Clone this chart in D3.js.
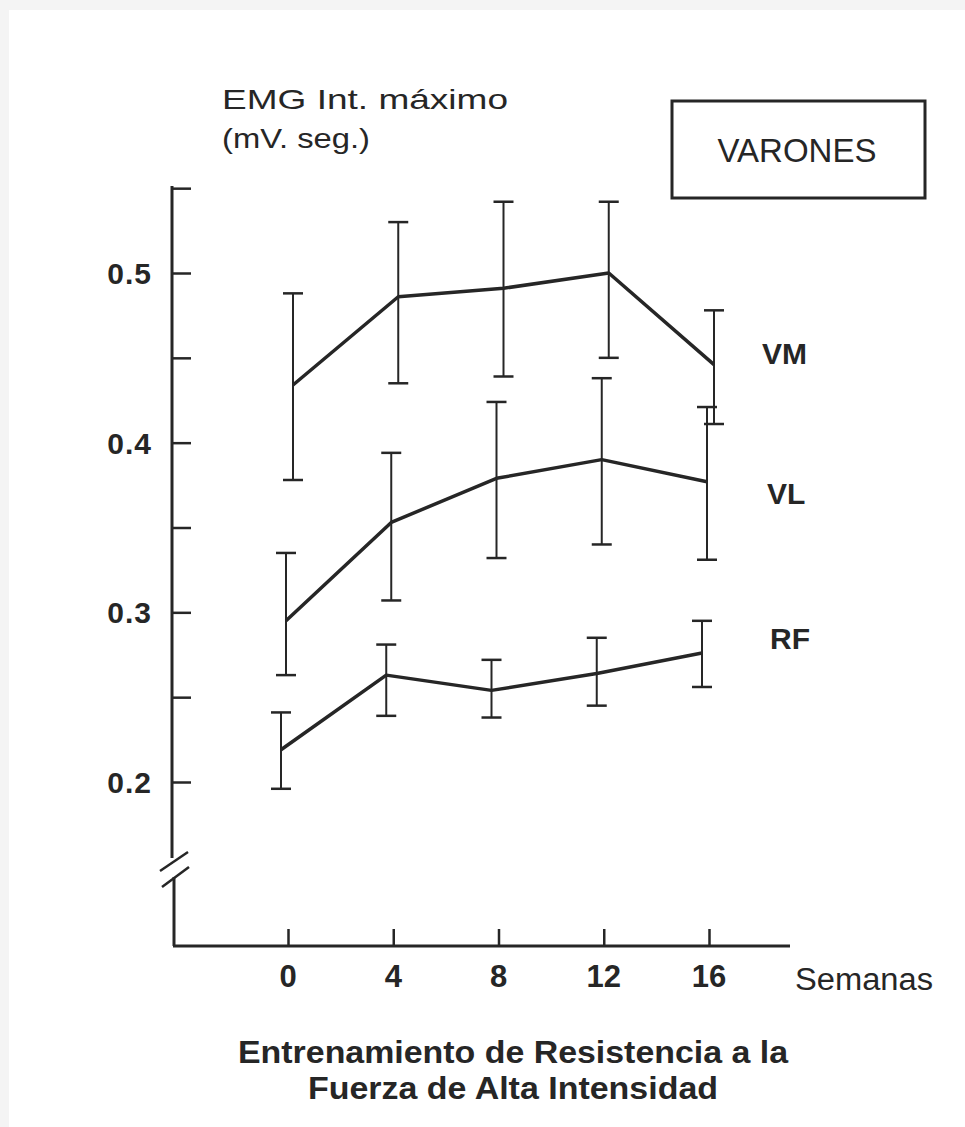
<!DOCTYPE html>
<html>
<head>
<meta charset="utf-8">
<script src="https://cdn.jsdelivr.net/npm/d3@7"></script>
<style>
  body { margin: 0; background: #f4f4f4; }
  text { font-family: "Liberation Sans", Arial, sans-serif; fill: #262626; }
</style>
</head>
<body>
<div class="chart"></div>
<script>
var svgWidth = 965;
var svgHeight = 1127;

// weeks of training
var weeks = [0, 4, 8, 12, 16];
var xTicks = [0, 4, 8, 12, 16];
var yTicks = [0.2, 0.3, 0.4, 0.5];
var yMinorTicks = [0.25, 0.35, 0.45, 0.55];

// integrated EMG (mV. seg.), mean and error bar ends
var vmMean = [0.434, 0.486, 0.491, 0.500, 0.446];
var vmHigh = [0.488, 0.530, 0.542, 0.542, 0.478];
var vmLow  = [0.378, 0.435, 0.439, 0.450, 0.411];

var vlMean = [0.295, 0.353, 0.379, 0.390, 0.377];
var vlHigh = [0.335, 0.394, 0.424, 0.438, 0.421];
var vlLow  = [0.263, 0.307, 0.332, 0.340, 0.331];

var rfMean = [0.219, 0.263, 0.254, 0.264, 0.276];
var rfHigh = [0.241, 0.281, 0.272, 0.285, 0.295];
var rfLow  = [0.196, 0.239, 0.238, 0.245, 0.256];

var seriesNames = ["VM", "VL", "RF"];

var ink = "#262626";

var svg = d3.select(".chart")
  .append("svg")
  .attr("width", svgWidth)
  .attr("height", svgHeight);

// paper
svg.append("rect")
  .attr("x", 9).attr("y", 10)
  .attr("width", svgWidth - 9).attr("height", svgHeight - 10)
  .attr("fill", "#ffffff");

var xScale = d3.scaleLinear().domain([0, 16]).range([288, 709]);
var yScale = d3.scaleLinear().domain([0.2, 0.5]).range([782, 273]);

var axisX = 172;
var baseY = 946;

// y axis upper part with break
svg.append("line")
  .attr("x1", axisX).attr("x2", axisX)
  .attr("y1", 186).attr("y2", 858)
  .attr("stroke", ink).attr("stroke-width", 3);
svg.append("line")
  .attr("x1", axisX + 2).attr("x2", axisX + 2)
  .attr("y1", 877).attr("y2", baseY)
  .attr("stroke", ink).attr("stroke-width", 3);
svg.append("line")
  .attr("x1", 160).attr("y1", 871).attr("x2", 188).attr("y2", 852)
  .attr("stroke", ink).attr("stroke-width", 2.5);
svg.append("line")
  .attr("x1", 162).attr("y1", 887).attr("x2", 189).attr("y2", 867)
  .attr("stroke", ink).attr("stroke-width", 2.5);

// y ticks pointing inward
var leftAxis = d3.axisRight(yScale)
  .tickValues(yTicks.concat(yMinorTicks))
  .tickSize(19)
  .tickFormat("");
var yAxis = svg.append("g")
  .attr("transform", `translate(${axisX},0)`)
  .call(leftAxis);
yAxis.select(".domain").remove();
yAxis.selectAll(".tick line").attr("stroke", ink).attr("stroke-width", 2.5);

svg.selectAll(".ylab")
  .data(yTicks)
  .enter()
  .append("text")
  .attr("class", "ylab")
  .attr("x", 152)
  .attr("y", d => yScale(d) + 11)
  .attr("text-anchor", "end")
  .attr("font-size", 30)
  .attr("font-weight", "bold")
  .attr("letter-spacing", 1)
  .text(d => d.toFixed(1));

// x axis
svg.append("line")
  .attr("x1", axisX + 1).attr("x2", 790)
  .attr("y1", baseY).attr("y2", baseY)
  .attr("stroke", ink).attr("stroke-width", 3);

var bottomAxis = d3.axisTop(xScale)
  .tickValues(xTicks)
  .tickSize(17)
  .tickFormat("");
var xAxis = svg.append("g")
  .attr("transform", `translate(0,${baseY})`)
  .call(bottomAxis);
xAxis.select(".domain").remove();
xAxis.selectAll(".tick line").attr("stroke", ink).attr("stroke-width", 2.5);

svg.selectAll(".xlab")
  .data(xTicks)
  .enter()
  .append("text")
  .attr("class", "xlab")
  .attr("x", d => xScale(d))
  .attr("y", 987)
  .attr("text-anchor", "middle")
  .attr("font-size", 31)
  .attr("font-weight", "bold")
  .text(d => d);

svg.append("text")
  .attr("x", 795).attr("y", 990)
  .attr("font-size", 31)
  .attr("textLength", 138)
  .attr("lengthAdjust", "spacingAndGlyphs")
  .text("Semanas");

// y axis title
svg.append("text")
  .attr("x", 222).attr("y", 109)
  .attr("font-size", 28)
  .attr("textLength", 286)
  .attr("lengthAdjust", "spacingAndGlyphs")
  .text("EMG Int. máximo");
svg.append("text")
  .attr("x", 222).attr("y", 148)
  .attr("font-size", 28)
  .attr("textLength", 148)
  .attr("lengthAdjust", "spacingAndGlyphs")
  .text("(mV. seg.)");

// VARONES box
svg.append("rect")
  .attr("x", 672).attr("y", 101)
  .attr("width", 253).attr("height", 97)
  .attr("fill", "none")
  .attr("stroke", ink).attr("stroke-width", 3);
svg.append("text")
  .attr("x", 797).attr("y", 162)
  .attr("text-anchor", "middle")
  .attr("font-size", 33)
  .text("VARONES");

// series
var series = [
  { name: seriesNames[0], mean: vmMean, high: vmHigh, low: vmLow, dx: 5, lx: 762, ly: 364 },
  { name: seriesNames[1], mean: vlMean, high: vlHigh, low: vlLow, dx: -2, lx: 767, ly: 504 },
  { name: seriesNames[2], mean: rfMean, high: rfHigh, low: rfLow, dx: -7, lx: 770, ly: 649 }
];

var line = d3.line()
  .x(d => d.x)
  .y(d => yScale(d.v));

series.forEach(function(s) {
  var pts = weeks.map((w, i) => ({
    x: xScale(w) + s.dx,
    v: s.mean[i],
    hi: s.high[i],
    lo: s.low[i]
  }));

  var g = svg.append("g");

  g.selectAll(".bar")
    .data(pts)
    .enter()
    .append("line")
    .attr("x1", d => d.x).attr("x2", d => d.x)
    .attr("y1", d => yScale(d.hi)).attr("y2", d => yScale(d.lo))
    .attr("stroke", ink).attr("stroke-width", 2);

  g.selectAll(".capHi")
    .data(pts)
    .enter()
    .append("line")
    .attr("x1", d => d.x - 10).attr("x2", d => d.x + 10)
    .attr("y1", d => yScale(d.hi)).attr("y2", d => yScale(d.hi))
    .attr("stroke", ink).attr("stroke-width", 2.5);

  g.selectAll(".capLo")
    .data(pts)
    .enter()
    .append("line")
    .attr("x1", d => d.x - 10).attr("x2", d => d.x + 10)
    .attr("y1", d => yScale(d.lo)).attr("y2", d => yScale(d.lo))
    .attr("stroke", ink).attr("stroke-width", 2.5);

  g.append("path")
    .datum(pts)
    .attr("d", line)
    .attr("fill", "none")
    .attr("stroke", ink)
    .attr("stroke-width", 3.5)
    .attr("stroke-linejoin", "round");

  svg.append("text")
    .attr("x", s.lx).attr("y", s.ly)
    .attr("font-size", 30)
    .attr("font-weight", "bold")
    .text(s.name);
});

// bottom title
svg.append("text")
  .attr("x", 238).attr("y", 1063)
  .attr("font-size", 32)
  .attr("font-weight", "bold")
  .attr("textLength", 550)
  .attr("lengthAdjust", "spacingAndGlyphs")
  .text("Entrenamiento de Resistencia a la");
svg.append("text")
  .attr("x", 308).attr("y", 1099)
  .attr("font-size", 32)
  .attr("font-weight", "bold")
  .attr("textLength", 410)
  .attr("lengthAdjust", "spacingAndGlyphs")
  .text("Fuerza de Alta Intensidad");
</script>
</body>
</html>
